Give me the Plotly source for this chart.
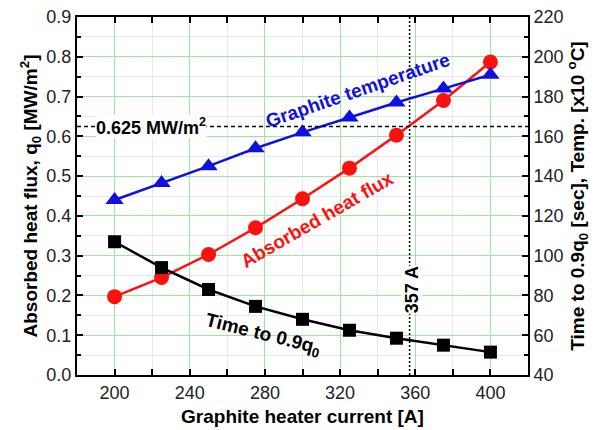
import plotly.graph_objects as go

current = [200, 225, 250, 275, 300, 325, 350, 375, 400]
heat_flux = [0.197, 0.245, 0.303, 0.370, 0.443, 0.520, 0.603, 0.690, 0.787]
temperature = [128, 136.5, 145, 154, 162, 169.5, 177, 184, 191]
time_to_09 = [107, 94, 83, 74.5, 68, 62.5, 58.5, 55, 51.5]
q_ref = 0.625
i_ref = 357

FONT = "Liberation Sans, Arial, sans-serif"
GREEN = "#9be89b"
MINOR = "#e3e9ef"

fig = go.Figure()
fig.add_trace(go.Scatter(x=current, y=heat_flux, mode="lines+markers",
                         line=dict(color="#ff1010", width=2.5),
                         marker=dict(symbol="circle", size=15, color="#ff1010"),
                         yaxis="y"))
fig.add_trace(go.Scatter(x=current, y=temperature, mode="lines+markers",
                         line=dict(color="#1010e0", width=2.5),
                         marker=dict(symbol="triangle-up", size=16, color="#1010e0"),
                         yaxis="y2"))
fig.add_trace(go.Scatter(x=current, y=time_to_09, mode="lines+markers",
                         line=dict(color="black", width=2.5),
                         marker=dict(symbol="square", size=13, color="black"),
                         yaxis="y2"))

# reference lines
fig.add_shape(type="line", xref="paper", x0=0, x1=1, yref="y", y0=q_ref, y1=q_ref,
              line=dict(color="black", width=1.5, dash="4px,3px"), layer="above")
fig.add_shape(type="line", xref="x", x0=i_ref, x1=i_ref, yref="paper", y0=0, y1=1,
              line=dict(color="black", width=1.5, dash="2px,2px"), layer="above")

tickfont = dict(family=FONT, size=18, color="#222")
titlefont = dict(family=FONT, size=19, color="black")

fig.update_layout(
    width=603, height=430,
    margin=dict(l=77, r=75, t=17, b=55),
    paper_bgcolor="white", plot_bgcolor="white",
    showlegend=False,
    xaxis=dict(range=[180, 420], dtick=40, tick0=200, ticks="inside", ticklen=6, tickwidth=2,
               tickcolor="black", showline=True, linecolor="black", linewidth=2,
               mirror="allticks", showgrid=True, gridcolor=GREEN, gridwidth=1,
               zeroline=False, tickfont=tickfont, automargin=False,
               minor=dict(dtick=20, ticks="inside", ticklen=4, tickwidth=1.5, tickcolor="black",
                          showgrid=True, gridcolor=MINOR),
               title=dict(text="<b>Graphite heater current [A]</b>", font=titlefont, standoff=8)),
    yaxis=dict(range=[0, 0.9], dtick=0.1, tickformat=".1f", ticks="inside", ticklen=6, tickwidth=2,
               tickcolor="black", showline=True, linecolor="black", linewidth=2,
               showgrid=True, gridcolor=GREEN, zeroline=False, tickfont=tickfont, automargin=False,
               minor=dict(dtick=0.05, ticks="inside", ticklen=4, tickwidth=1.5, tickcolor="black",
                          showgrid=True, gridcolor=MINOR),
               title=dict(text="<b>Absorbed heat flux, q<sub>0</sub> [MW/m<sup>2</sup>]</b>",
                          font=titlefont, standoff=4)),
    yaxis2=dict(range=[40, 220], dtick=20, overlaying="y", side="right", ticks="inside",
                ticklen=6, tickwidth=2, tickcolor="black", showline=True, linecolor="black",
                linewidth=2, showgrid=False, zeroline=False, tickfont=tickfont, automargin=False,
                minor=dict(dtick=10, ticks="inside", ticklen=4, tickwidth=1.5, tickcolor="black"),
                title=dict(text="<b>Time to 0.9q<sub>0</sub> [sec], Temp. [x10 <sup>o</sup>C]</b>",
                           font=titlefont, standoff=6)),
)

fig.add_annotation(x=329, y=0.716, xref="x", yref="y", text="<b>Graphite temperature</b>",
                   showarrow=False, textangle=-19, font=dict(family=FONT, size=19, color="#1010e0"))
fig.add_annotation(x=308, y=0.39, xref="x", yref="y", text="<b>Absorbed heat flux</b>",
                   showarrow=False, textangle=-30, font=dict(family=FONT, size=19, color="#ff1010"))
fig.add_annotation(x=279, y=0.10, xref="x", yref="y", text="<b>Time to 0.9q<sub>0</sub></b>",
                   showarrow=False, textangle=14, font=dict(family=FONT, size=19, color="black"))
fig.add_annotation(x=219.5, y=q_ref, xref="x", yref="y", text="<b>0.625 MW/m<sup>2</sup></b>",
                   showarrow=False, bgcolor="white", borderpad=0,
                   font=dict(family=FONT, size=18, color="black"))
fig.add_annotation(x=i_ref + 1, y=0.214, xref="x", yref="y", text="<b>357 A</b>",
                   showarrow=False, textangle=-90, bgcolor="white", borderpad=0,
                   font=dict(family=FONT, size=18, color="black"))

fig.write_html("out.html", config={"displayModeBar": False},
               post_script="document.body.style.margin='0';")
